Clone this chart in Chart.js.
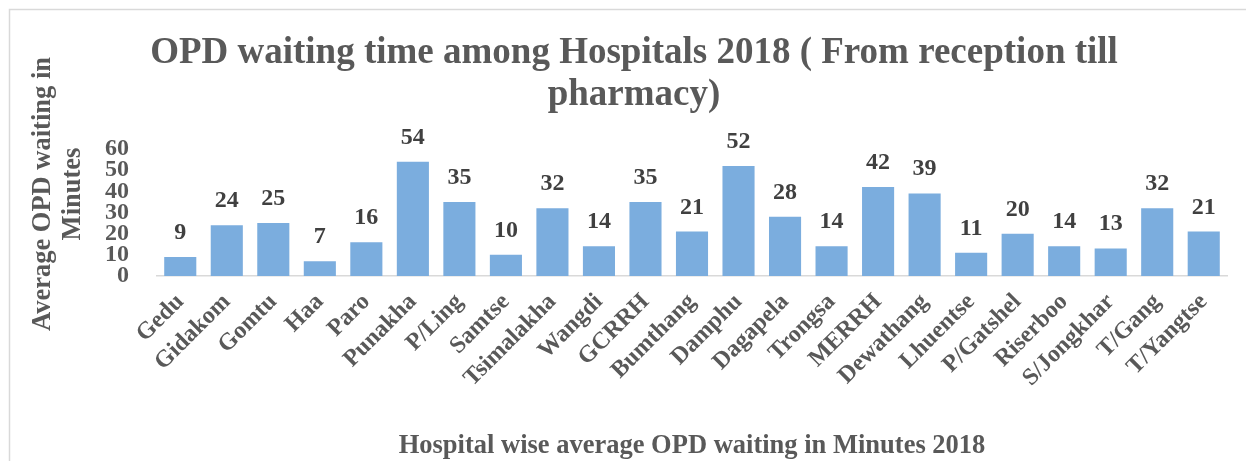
<!DOCTYPE html>
<html>
<head>
<meta charset="utf-8">
<script src="https://cdn.jsdelivr.net/npm/chart.js@4.4.1/dist/chart.umd.min.js"></script>
<style>
  html, body { margin: 0; padding: 0; background: #fff; }
  #wrap { width: 1246px; height: 461px; position: relative; }
</style>
</head>
<body>
<div id="wrap"><canvas id="opdChart"></canvas></div>
<script>
// data
const hospitals = ['Gedu', 'Gidakom', 'Gomtu', 'Haa', 'Paro', 'Punakha', 'P/Ling', 'Samtse', 'Tsimalakha', 'Wangdi', 'GCRRH', 'Bumthang', 'Damphu', 'Dagapela', 'Trongsa', 'MERRH', 'Dewathang', 'Lhuentse', 'P/Gatshel', 'Riserboo', 'S/Jongkhar', 'T/Gang', 'T/Yangtse'];
const waitMinutes = [9, 24, 25, 7, 16, 54, 35, 10, 32, 14, 35, 21, 52, 28, 14, 42, 39, 11, 20, 14, 13, 32, 21];
const yTicks = [0, 10, 20, 30, 40, 50, 60];
const chartTitle = ['OPD waiting time among Hospitals 2018 ( From reception till', 'pharmacy)'];
const yTitle = ['Average OPD waiting in', 'Minutes'];
const xTitle = 'Hospital wise average OPD waiting in Minutes 2018';

const serif = "'Liberation Serif', 'Times New Roman', serif";
const grey = '#595959';

// frame around the chart, like the office chart border
const framePlugin = {
  id: 'frame',
  beforeDraw(chart) {
    const ctx = chart.ctx;
    ctx.save();
    ctx.strokeStyle = '#d9d9d9';
    ctx.lineWidth = 1.5;
    ctx.strokeRect(9.5, 9.5, 1400, 600);
    ctx.restore();
  }
};

// value labels above each bar
const barLabels = {
  id: 'barLabels',
  afterDatasetsDraw(chart) {
    const ctx = chart.ctx;
    const meta = chart.getDatasetMeta(0);
    ctx.save();
    ctx.font = 'bold 24px ' + serif;
    ctx.fillStyle = '#404040';
    ctx.textAlign = 'center';
    ctx.textBaseline = 'alphabetic';
    meta.data.forEach((bar, i) => {
      ctx.fillText(String(waitMinutes[i]), bar.x, bar.y - 18);
    });
    ctx.restore();
  }
};

// rotated y axis title, two lines
const yTitlePlugin = {
  id: 'yTitle',
  afterDraw(chart) {
    const ctx = chart.ctx;
    ctx.save();
    ctx.font = 'bold 26.5px ' + serif;
    ctx.fillStyle = grey;
    ctx.textAlign = 'center';
    ctx.textBaseline = 'alphabetic';
    ctx.translate(50, 194);
    ctx.rotate(-Math.PI / 2);
    yTitle.forEach((line, i) => ctx.fillText(line, 0, i * 30));
    ctx.restore();
  }
};

new Chart(document.getElementById('opdChart'), {
  type: 'bar',
  data: {
    labels: hospitals,
    datasets: [{
      data: waitMinutes,
      backgroundColor: '#7badde',
      categoryPercentage: 1,
      barPercentage: 0.69
    }]
  },
  plugins: [framePlugin, barLabels, yTitlePlugin],
  options: {
    responsive: true,
    maintainAspectRatio: false,
    animation: false,
    layout: { padding: { top: 10, left: 41, right: 19, bottom: 0 } },
    plugins: {
      legend: { display: false },
      tooltip: { enabled: false },
      title: {
        display: true,
        text: chartTitle,
        color: grey,
        font: { family: serif, size: 37, weight: 'bold', lineHeight: 1.135 },
        padding: { top: 22, bottom: 33 }
      }
    },
    scales: {
      x: {
        grid: { display: false },
        border: { display: true, color: '#d9d9d9', width: 1.5 },
        ticks: {
          color: grey,
          font: { family: serif, size: 24, weight: 'bold' },
          minRotation: 45,
          maxRotation: 45,
          autoSkip: false,
          padding: 4
        },
        title: {
          display: true,
          text: xTitle,
          color: grey,
          font: { family: serif, size: 26.5, weight: 'bold', lineHeight: 1 },
          padding: { top: 4, bottom: 2 }
        },
        afterFit(scale) { scale.height = 185; }
      },
      y: {
        min: 0,
        max: 60,
        grid: { display: false },
        border: { display: false },
        afterBuildTicks(scale) { scale.ticks = yTicks.map(v => ({ value: v })); },
        ticks: {
          color: grey,
          font: { family: serif, size: 24, weight: 'bold', lineHeight: 1 },
          autoSkip: false,
          padding: 20
        },
        afterFit(scale) { scale.width = 116; }
      }
    }
  }
});
</script>
</body>
</html>
